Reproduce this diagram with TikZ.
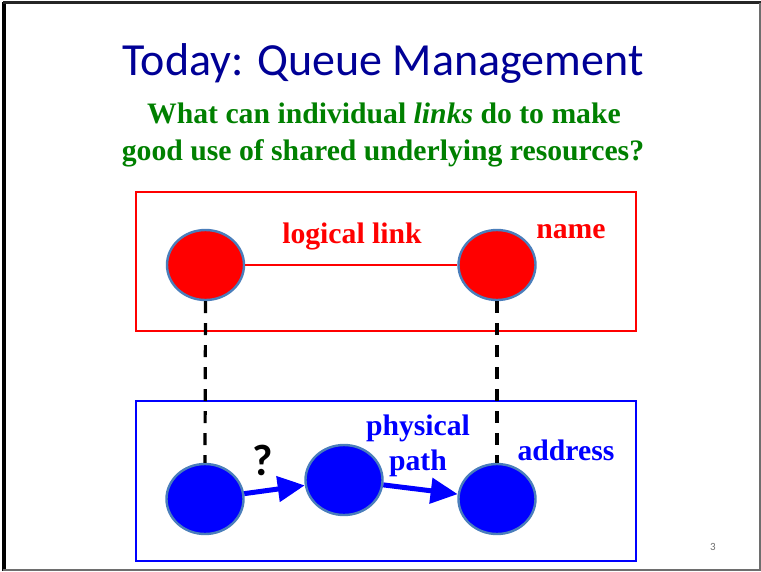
\documentclass[tikz,border=0pt]{standalone}
\usepackage{fontspec}
\setmainfont{Liberation Serif}
\newfontfamily\calfont{Carlito}
\usetikzlibrary{arrows.meta,shapes.geometric}
\definecolor{titleblue}{RGB}{0,0,150}
\definecolor{subgreen}{RGB}{0,128,0}
\definecolor{edgeblue}{RGB}{74,126,187}
\definecolor{pgray}{RGB}{110,110,110}
\begin{document}
\begin{tikzpicture}[x=1pt,y=-1pt,
  rnode/.style={ellipse,fill=red,draw=edgeblue,line width=2.4pt,minimum width=77pt,minimum height=70pt,inner sep=0pt},
  bnode/.style={ellipse,fill=blue,draw=edgeblue,line width=2.4pt,minimum width=77pt,minimum height=70pt,inner sep=0pt},
  lbl/.style={anchor=base,font=\fontsize{29.7}{32}\selectfont\bfseries,inner sep=0pt},
  dashlink/.style={dash pattern=on 12pt off 10pt,line width=3.2pt,black},
  patharrow/.style={blue,line width=5pt,-{Triangle[length=27pt,width=25pt]}},
  layerbox/.style={rectangle,draw,line width=2.4pt,minimum width=500pt,inner sep=0pt}
]
\useasboundingbox (0,0) rectangle (761,571);
\fill[white] (0,0) rectangle (761,571);
% slide frame
\draw[black,line width=3.5pt] (4,1.5) -- (4,571);
\draw[black!85,line width=2.5pt] (3,2.5) -- (761,2.5);
\draw[pgray,line width=2pt] (759.5,2.5) -- (759.5,571);
\draw[pgray,line width=2pt] (3,569.5) -- (761,569.5);

% titles
\node[anchor=base,inner sep=0pt,text=titleblue,font=\calfont\fontsize{46}{50}\selectfont] (title) at (383,75) {Today: Queue Management};
\node[anchor=base,inner sep=0pt,text=subgreen,font=\fontsize{29.7}{32}\selectfont\bfseries] (sub1) at (384,123) {What can individual \textit{links} do to make};
\node[anchor=base,inner sep=0pt,text=subgreen,font=\fontsize{29.7}{32}\selectfont\bfseries] (sub2) at (383,160) {good use of shared underlying resources?};

% layer boxes
\node[layerbox,draw=red,minimum height=139pt] (redbox) at (386,261.5) {};
\node[layerbox,draw=blue,minimum height=160pt] (bluebox) at (386,481) {};

% nodes
\node[rnode] (r1) at (205.5,265) {};
\node[rnode] (r2) at (497,265) {};
\node[bnode] (b1) at (205,499) {};
\node[bnode] (b2) at (344,480) {};
\node[bnode] (b3) at (497,499) {};

% connectors
\draw[red,line width=1.8pt] (r1) -- (r2);
\draw[dashlink] (r1.south) -- (b1.north);
\draw[dashlink] (r2.south) -- (b3.north);
\draw[patharrow] (b1) -- (b2);
\draw[patharrow] (b2) -- (b3);

% labels
\node[lbl,text=red] (ll) at (352,243) {logical link};
\node[lbl,text=red] (nm) at (571,238) {name};
\node[lbl,text=blue] (ph) at (418,435) {physical};
\node[lbl,text=blue] (pt) at (418,470) {path};
\node[lbl,text=blue] (ad) at (566,460) {address};
\node[anchor=base,inner sep=0pt,font=\calfont\bfseries\fontsize{44}{46}\selectfont] (q) at (263,475) {?};
\node[anchor=base,inner sep=0pt,text=pgray,font=\calfont\fontsize{11}{13}\selectfont] (pg) at (713,550) {3};
\end{tikzpicture}
\end{document}
